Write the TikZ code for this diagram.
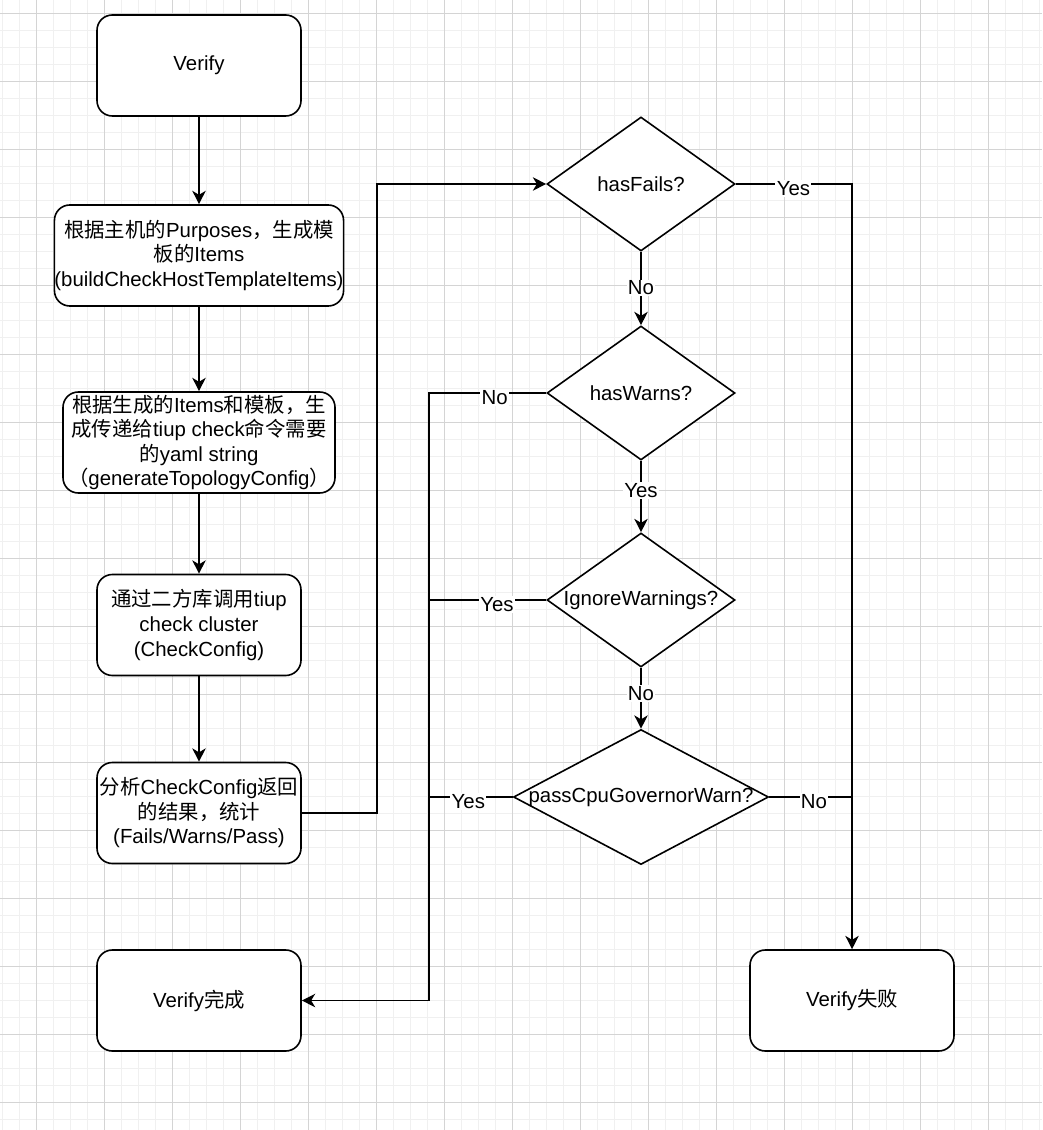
\documentclass[tikz,border=0pt]{standalone}
\usepackage{fontspec}
\setmainfont{Liberation Sans}
\newfontfamily\cjk{Noto Sans CJK SC}
\usetikzlibrary{shapes.geometric,arrows.meta}

\begin{document}
\begin{tikzpicture}[x=0.75pt,y=-0.75pt,
  font=\fontsize{15.3pt}{18.4pt}\selectfont,
  gridminor/.style={draw=black!6, line width=0.75pt},
  gridmajor/.style={draw=black!17, line width=0.75pt},
  box/.style={draw, line width=1.2pt, rounded corners=11.5pt, fill=white,
    align=center, inner sep=0pt, minimum width=153pt, minimum height=75.75pt},
  decision/.style={draw, diamond, line width=1.2pt, fill=white, inner sep=0pt,
    minimum width=141pt, minimum height=100.5pt},
  arr/.style={line width=1.2pt, -{Stealth[length=10pt,width=10pt,inset=3pt]}},
  link/.style={line width=1.2pt},
  lbl/.style={fill=white, inner sep=1pt, yshift=-3.5pt}
]
% canvas and background grid
\fill[white] (0,0) rectangle (1042,1130);
\useasboundingbox (0,0) rectangle (1042,1130);
\foreach \gx in {2,19,...,1042} \draw[gridminor] (\gx,0) -- (\gx,1130);
\foreach \gy in {14,31,...,1130} \draw[gridminor] (0,\gy) -- (1042,\gy);
\foreach \gx in {36,104,...,1042} \draw[gridmajor] (\gx,0) -- (\gx,1130);
\foreach \gy in {14,82,...,1130} \draw[gridmajor] (0,\gy) -- (1042,\gy);

% process steps
\node[box] (start) at (199,65.5) {Verify};
\node[box, minimum width=216pt] (tmpl) at (199,255.5)
  {{\cjk 根据主机的}Purposes{\cjk ，生成模}\\{\cjk 板的}Items\\(buildCheckHostTemplateItems)};
\node[box, minimum width=204pt] (topo) at (199,442.5)
  {{\cjk 根据生成的}Items{\cjk 和模板，生}\\{\cjk 成传递给}tiup check{\cjk 命令需要}\\{\cjk 的}yaml string\\{\cjk （}generateTopologyConfig{\cjk ）}};
\node[box] (check) at (199,625)
  {{\cjk 通过二方库调用}tiup\\check cluster\\(CheckConfig)};
\node[box] (analyse) at (199,813)
  {{\cjk 分析}CheckConfig{\cjk 返回}\\{\cjk 的结果，统计}\\(Fails/Warns/Pass)};
\node[box] (done) at (199,1000.5) {Verify{\cjk 完成}};
\node[box] (failed) at (852,1000.5) {Verify{\cjk 失败}};

% decisions
\node[decision, label=center:hasFails?] (fails) at (641,184) {};
\node[decision, label=center:hasWarns?] (warns) at (641,393) {};
\node[decision, label=center:IgnoreWarnings?] (ignore) at (641,600) {};
\node[decision, minimum width=191.25pt, minimum height=101.25pt,
  label=center:passCpuGovernorWarn?] (cpu) at (641,797) {};

% bus lines
\coordinate (loopx) at (377,0);
\coordinate (busx) at (429,0);

% main chain
\draw[arr] (start) -- (tmpl);
\draw[arr] (tmpl) -- (topo);
\draw[arr] (topo) -- (check);
\draw[arr] (check) -- (analyse);
\draw[arr] (analyse.east) -- (analyse.east -| loopx) |- (fails.west);

% decision branches
\draw[arr] (fails.east) -| node[lbl, pos=0.248] {Yes} (failed.north);
\draw[arr] (fails.south) -- node[lbl, pos=0.43] {No} (warns.north);
\draw[arr] (warns.west) -- node[lbl, pos=0.44] {No} (warns.west -| busx) |- (done.east);
\draw[arr] (warns.south) -- node[lbl, pos=0.35] {Yes} (ignore.north);
\draw[link] (ignore.west) -- node[lbl, pos=0.42] {Yes} (ignore.west -| busx);
\draw[arr] (ignore.south) -- node[lbl, pos=0.34] {No} (cpu.north);
\draw[link] (cpu.west) -- node[lbl, pos=0.53] {Yes} (cpu.west -| busx);
\draw[link] (cpu.east) -- node[lbl, pos=0.54] {No} (cpu.east -| failed);
\end{tikzpicture}
\end{document}
